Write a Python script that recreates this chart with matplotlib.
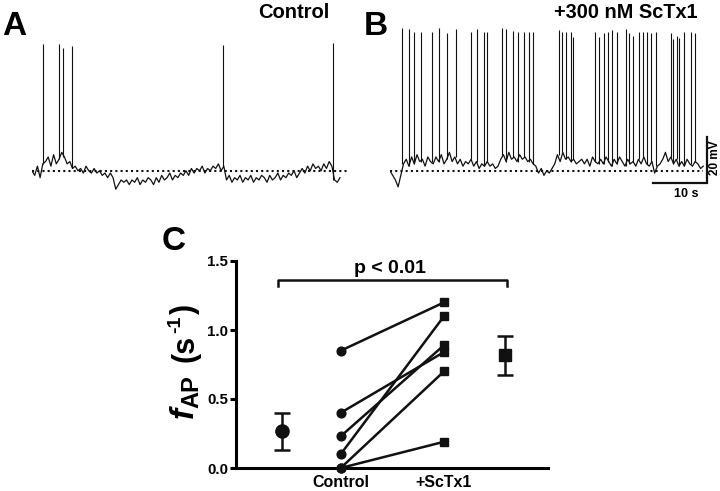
import numpy as np
import matplotlib
matplotlib.use('Agg')
import matplotlib.pyplot as plt

plt.rcParams['font.family'] = ['Liberation Sans', 'DejaVu Sans']
plt.rcParams['font.weight'] = 'bold'

K = '#111111'

# ---- traces: membrane potential (mV, relative to dotted resting level), 0.5 s samples
dt = 0.5
ctrl_base = [0, -2, 2, -3, 3, 4,
             6, 2, 7, 3, 5, 8,
             6, 3, 4, 1, 2, 0,
             1, -1, 2, 0, -1, 1,
             -1, 0, -2, -1, -3, -1,
             -3, -8, -6, -4, -5, -4,
             -6, -4, -5, -3, -6, -4,
             -5, -3, -4, -6, -3, -5,
             -2, -4, -3, -1, -4, -2,
             -3, -1, -2, 0, -2, 1,
             -1, 1, 0, 2, -1, 1,
             0, 2, 1, 3, 0, 2,
             -4, -2, -5, -3, -4, -2,
             -5, -3, -4, -2, -5, -3,
             -4, -2, -3, -5, -2, -4,
             -3, -1, -4, -2, -3, -1,
             -2, 0, -3, -1, 1, -1,
             2, 0, 3, 1, 2, 0,
             3, 1, 4, 2, -4, -5,
             -3]
ctrl_spike_t = [1.98, 5.06, 5.8, 7.46, 35.4, 55.8]
ctrl_spike_v = [55.2, 54.9, 53.2, 54.0, 54.7, 55.3]

sctx_base = [0, -2, -4, -7, -2, 3,
             5, 2, 6, 3, 7, 4,
             5, 2, 6, 4, 3, 6,
             4, 7, 3, 5, 8, 4,
             6, 3, 5, 2, 4, 3,
             5, 2, 4, 1, 3, 2,
             4, 2, 3, 1, 2, 5,
             7, 4, 8, 5, 6, 4,
             7, 5, 6, 4, 5, 3,
             2, -1, 1, -2, 0, -1,
             1, 3, 7, 4, 8, 5,
             6, 4, 5, 3, 4, 5,
             3, 5, 2, 6, 4, 3,
             5, 3, 6, 4, 2, 5,
             3, 6, 4, 2, 5, 3,
             4, 2, 5, 3, 6, 3,
             2, 4, -1, 2, 3, 5,
             8, 4, 6, 3, 5, 2,
             4, 2, 5, 3, 2, 4,
             3, 1, 2]
sctx_spike_t = [2.28, 3.46, 4.39, 5.69, 7.72, 9.02, 10.61, 12.17, 15.0, 16.17,
                17.35, 17.96, 20.80, 21.48, 22.83, 23.70, 24.76, 25.74, 26.43,
                31.24, 31.85, 32.54, 33.46, 33.94, 37.96, 38.65, 39.57, 40.37,
                41.11, 42.04, 43.70, 44.31, 44.94, 46.06, 46.80, 47.54, 48.33,
                49.26, 51.98, 52.35, 53.09, 53.57, 54.50, 55.69, 56.43]
sctx_spike_v = [61.9, 61.5, 60.5, 60.5, 60.5, 61.9, 59.7, 61.5, 60.5, 61.5,
                60.5, 60.5, 61.9, 61.5, 60.9, 60.5, 60.5, 60.5, 60.5,
                61.2, 60.5, 60.5, 60.5, 58.3, 60.5, 58.0, 60.0, 60.5,
                61.2, 60.5, 61.5, 59.7, 58.5, 60.5, 60.5, 60.5, 59.7,
                60.5, 59.7, 57.1, 58.5, 57.6, 60.2, 60.2, 59.7]

# ---- panel C: AP frequency (s^-1)
cats = ['Control', '+ScTx1']
ctrl_f = [0.85, 0.40, 0.23, 0.10, 0.0, 0.0]
sctx_f = [1.20, 0.84, 0.89, 1.10, 0.70, 0.19]
mean_f = [0.265, 0.817]
sem_f = [0.133, 0.143]

W, H = 720, 491
fig = plt.figure(figsize=(W / 100, H / 100), dpi=100)
renderer = fig.canvas.get_renderer()


def px_axes(l, t, r, b):
    return fig.add_axes([l / W, 1 - b / H, (r - l) / W, (b - t) / H])


def ftext(x, y, s, **kw):
    return fig.text(x / W, 1 - y / H, s, **kw)


def draw_trace(ax, base, sp_t, sp_v, dotted_end):
    t = np.arange(len(base)) * dt
    ax.plot(t, base, color=K, lw=0.9)
    sp_base = [base[int(round(s / dt))] for s in sp_t]
    ax.vlines(sp_t, sp_base, sp_v, color=K, lw=0.8)
    ax.plot([0, dotted_end], [0, 0], color=K, lw=1.5, dashes=(1, 1.5))
    ax.set_ylim(-12.7, 65.5)
    ax.axis('off')


axA = px_axes(32, 20, 347, 200)
draw_trace(axA, ctrl_base, ctrl_spike_t, ctrl_spike_v, 58.3)
axA.set_xlim(0, 58.3)

axB = px_axes(390, 20, 720, 200)
draw_trace(axB, sctx_base, sctx_spike_t, sctx_spike_v, 58.0)
axB.set_xlim(0, 61.1)
# scale bar 10 s / 20 mV
axB.plot([48.7, 58.7, 58.7], [-5.2, -5.2, 14.8], color=K, lw=1.6,
         solid_joinstyle='miter', clip_on=False)

ftext(2, 35, 'A', fontsize=24, va='baseline')
ftext(364, 35, 'B', fontsize=24, va='baseline')
ftext(329, 17.5, 'Control', fontsize=14.5, ha='right', va='baseline')
ftext(698, 17.5, '+300 nM ScTx1', fontsize=14.3, ha='right', va='baseline')
ftext(715, 158, '20 mV', fontsize=8.5, rotation=90, ha='center', va='center')
ftext(686, 197, '10 s', fontsize=9, ha='center', va='baseline')
ftext(162, 250, 'C', fontsize=24, va='baseline')

# ---- panel C
axC = px_axes(236, 261, 548, 468)
x_mc, x_c, x_s, x_ms = 0.463, 1.047, 2.08, 2.69
for c, s in zip(ctrl_f, sctx_f):
    axC.plot([x_c, x_s], [c, s], color=K, lw=1.8, clip_on=False)
axC.plot([x_c] * len(ctrl_f), ctrl_f, 'o', color=K, ms=6.3, clip_on=False, zorder=3)
axC.plot([x_s] * len(sctx_f), sctx_f, 's', color=K, ms=5.8, clip_on=False, zorder=3)
axC.errorbar(x_mc, mean_f[0], yerr=sem_f[0], fmt='o', color=K, ms=9.5,
             capsize=6, elinewidth=1.8, capthick=1.8)
axC.errorbar(x_ms, mean_f[1], yerr=sem_f[1], fmt='s', color=K, ms=9,
             capsize=6, elinewidth=1.8, capthick=1.8)

axC.plot([0.423, 0.423, 2.707, 2.707], [1.317, 1.365, 1.365, 1.317], color=K,
         lw=1.8, clip_on=False)
axC.text(1.54, 1.41, 'p < 0.01', fontsize=14, ha='center', va='baseline')

axC.set_xlim(0, 3.12)
axC.set_ylim(0, 1.5)
axC.spines['top'].set_visible(False)
axC.spines['right'].set_visible(False)
for sp in ('left', 'bottom'):
    axC.spines[sp].set_linewidth(2.2)
axC.set_yticks([0, 0.5, 1.0, 1.5])
axC.set_yticklabels(['0.0', '0.5', '1.0', '1.5'], fontsize=10.8)
axC.set_xticks([x_c, x_s])
axC.set_xticklabels(cats, fontsize=11.5)
axC.tick_params(axis='y', width=2.2, length=4, pad=1.5)
axC.tick_params(axis='x', length=0, pad=5)

# y label f_AP (s^-1), rotated, assembled piece by piece from the bottom up
label_parts = [('f', 24, 'italic', 193, -1), ('AP', 17, 'normal', 198, 13),
               ('(s', 22, 'normal', 193, 2), ('-1', 14, 'normal', 180, 2),
               (')', 22, 'normal', 193, 0)]
cursor = 418
for s, size, style, xb, gap in label_parts:
    t = ftext(xb, cursor, s, fontsize=size, style=style, rotation=90,
              rotation_mode='anchor', ha='left', va='baseline')
    cursor -= t.get_window_extent(renderer).height + gap

fig.savefig('out.png', dpi=100)
